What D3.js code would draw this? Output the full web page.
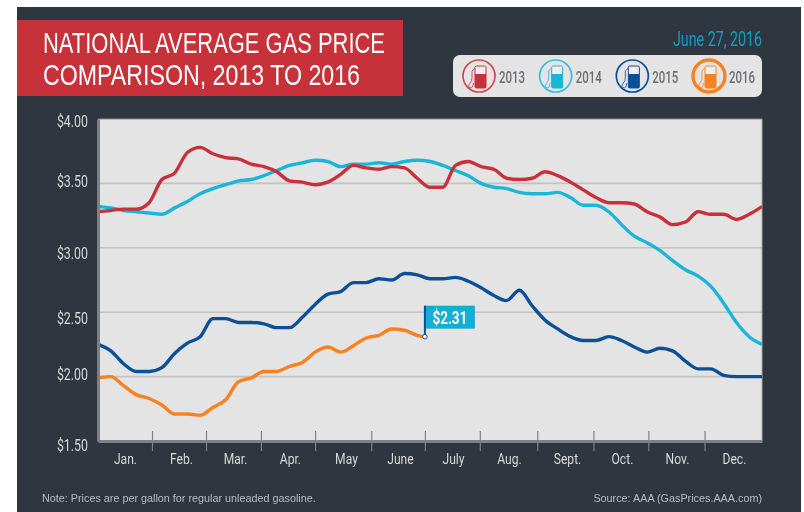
<!DOCTYPE html>
<html><head><meta charset="utf-8">
<script src="https://cdn.jsdelivr.net/npm/d3@7"></script>
<style>
html,body{margin:0;padding:0;background:#fff;}
svg{display:block;filter:blur(0.35px);}
.cond{font-family:"Roboto",sans-serif;}
.ttl{font-family:"Liberation Sans",sans-serif;}
</style></head><body><div id="chart"></div>
<script>
const months=["Jan.","Feb.","Mar.","Apr.","May","June","July","Aug.","Sept.","Oct.","Nov.","Dec."];
const monthLabelWeeks=[2.11,6.5,10.73,15.03,19.42,23.65,27.8,32.18,36.73,41.03,45.34,49.8];
const monthTickWeeks=[4.23,8.46,12.76,17,21.4,25.6,29.9,34.4,38.8,43.1,47.5];
const priceTicks=[1.5,2,2.5,3,3.5,4];
const years=["2013","2014","2015","2016"];
const values2013=[3.28,3.29,3.30,3.30,3.35,3.53,3.58,3.74,3.78,3.73,3.70,3.69,3.65,3.63,3.59,3.52,3.51,3.49,3.51,3.57,3.64,3.62,3.61,3.63,3.62,3.54,3.47,3.47,3.64,3.67,3.63,3.61,3.54,3.53,3.54,3.59,3.56,3.51,3.45,3.39,3.35,3.35,3.34,3.28,3.24,3.18,3.20,3.28,3.26,3.26,3.22,3.26,3.32];
const values2014=[3.32,3.31,3.29,3.28,3.27,3.26,3.31,3.36,3.42,3.46,3.49,3.52,3.53,3.56,3.60,3.64,3.66,3.68,3.67,3.63,3.65,3.65,3.66,3.65,3.67,3.68,3.67,3.64,3.60,3.56,3.50,3.47,3.46,3.43,3.42,3.42,3.43,3.39,3.33,3.33,3.28,3.18,3.09,3.04,2.98,2.90,2.83,2.78,2.70,2.57,2.42,2.31,2.25];
const values2015=[2.25,2.20,2.10,2.04,2.04,2.07,2.18,2.26,2.31,2.45,2.45,2.42,2.42,2.41,2.38,2.38,2.46,2.56,2.64,2.66,2.73,2.73,2.76,2.75,2.80,2.79,2.76,2.76,2.77,2.74,2.69,2.63,2.59,2.67,2.55,2.44,2.37,2.31,2.28,2.28,2.31,2.28,2.23,2.19,2.22,2.20,2.12,2.06,2.06,2.01,2.00,2.00,2.00];
const values2016=[1.99,2.00,1.93,1.86,1.83,1.78,1.71,1.71,1.70,1.76,1.82,1.96,1.99,2.04,2.04,2.08,2.11,2.19,2.23,2.19,2.24,2.30,2.32,2.37,2.36,2.32,2.31];
const lastWeek2016=25.6;
const currentLabel="$2.31";

const colors={"2013":"#c8303a","2014":"#1ab6da","2015":"#0b4f98","2016":"#f8821f"};
const W=804,H=512,L=98,R=762,T=119,B=441;
const squeeze=(sel,f)=>sel.each(function(){const t=d3.select(this);t.attr("textLength",this.getComputedTextLength()*f).attr("lengthAdjust","spacingAndGlyphs");});
const svg=d3.select("#chart").append("svg").attr("width",W).attr("height",H);
svg.append("rect").attr("x",17).attr("y",7).attr("width",784).attr("height",505).attr("fill","#2f3640");
svg.append("rect").attr("x",17).attr("y",20).attr("width",386).attr("height",76).attr("fill","#c7323a");
const title=[["NATIONAL AVERAGE GAS PRICE",53,342],["COMPARISON, 2013 TO 2016",85,317]];
svg.selectAll(".ttl").data(title).join("text").attr("class","ttl").attr("x",43).attr("y",d=>d[1])
 .attr("fill","#fff").attr("font-size",30).attr("textLength",d=>d[2]).attr("lengthAdjust","spacingAndGlyphs").text(d=>d[0]);
svg.append("text").attr("class","cond").attr("x",762).attr("y",46).attr("text-anchor","end").attr("fill","#109fc4")
 .attr("font-size",20).attr("textLength",89).attr("lengthAdjust","spacingAndGlyphs").text("June 27, 2016");

// legend
svg.append("rect").attr("x",453).attr("y",55).attr("width",309).attr("height",42).attr("rx",7).attr("fill","#e4e4e4");
const legendX=d3.scaleLinear().domain([0,3]).range([479,709]);
const lg=svg.selectAll(".lg").data(years).join("g").attr("class","lg").attr("transform",(d,i)=>`translate(${legendX(i)},76)`);
lg.append("circle").attr("r",16).attr("fill","none").attr("stroke",d=>colors[d]).attr("stroke-width",d=>d==="2016"?3.4:1.7).attr("stroke-opacity",d=>d==="2015"||d==="2016"?1:.85);
lg.append("rect").attr("x",-4).attr("y",-10).attr("width",11).attr("height",22).attr("rx",1.5).attr("fill","#efefef").attr("stroke",d=>colors[d]).attr("stroke-width",1);
lg.append("rect").attr("x",-4).attr("y",-2).attr("width",11).attr("height",14).attr("fill",d=>colors[d]);
lg.append("path").attr("d","M-4,-8 L-7,-5 L-7,2 Q-7,5 -9,7 Q-12,11 -8,12 Q-6,12 -5.5,7").attr("fill","none").attr("stroke",d=>colors[d]).attr("stroke-width",1).attr("stroke-opacity",.8);
lg.append("text").attr("class","cond").attr("x",20).attr("y",7).attr("fill","#6a6d70").attr("font-size",16.5).attr("font-weight",500)
 .attr("textLength",26).attr("lengthAdjust","spacingAndGlyphs").text(d=>d);

// plot
const x=d3.scaleLinear().domain([0,52]).range([L,R]);
const y=d3.scaleLinear().domain([1.5,4]).range([B,T]);
svg.append("rect").attr("x",L).attr("y",T).attr("width",R-L).attr("height",B-T).attr("fill","#e4e4e4");
svg.append("g").selectAll("line").data(priceTicks.filter(d=>d>1.5&&d<4)).join("line")
 .attr("x1",L).attr("x2",R).attr("y1",d=>y(d)).attr("y2",d=>y(d)).attr("stroke","#c2c2c2").attr("stroke-width",1.6);
svg.append("line").attr("x1",L).attr("x2",R).attr("y1",T).attr("y2",T).attr("stroke","#8a8d90").attr("stroke-width",1);
svg.append("line").attr("x1",R).attr("x2",R).attr("y1",T).attr("y2",B).attr("stroke","#a0a2a4").attr("stroke-width",1);

const line=d3.line().x(d=>x(d[0])).y(d=>y(d[1])).curve(d3.curveMonotoneX);
svg.append("clipPath").attr("id","pc").append("rect").attr("x",L).attr("y",T).attr("width",R-L).attr("height",B-T);
const gl=svg.append("g").attr("clip-path","url(#pc)");
const draw=["2015","2014","2013"];
const valuesOf={"2013":values2013,"2014":values2014,"2015":values2015};
draw.forEach(k=>{
 gl.append("path").datum(valuesOf[k].map((v,i)=>[i,v])).attr("d",line).attr("fill","none")
  .attr("stroke",colors[k]).attr("stroke-width",3.4).attr("stroke-linejoin","round");
});
const d2016=values2016.map((v,i)=>[i===values2016.length-1?lastWeek2016:i,v]);
gl.append("path").datum(d2016).attr("d",line).attr("fill","none").attr("stroke",colors["2016"]).attr("stroke-width",3.4).attr("stroke-linejoin","round");

// axes
const labelNudge=[4,-2,6,5,-2,2];
const ya=svg.append("g").attr("transform",`translate(${L},0)`).call(d3.axisLeft(y).tickValues(priceTicks).tickFormat(d3.format("$.2f")).tickSize(0).tickPadding(10));
ya.select(".domain").attr("stroke","#7d8084").attr("stroke-width",3);
ya.selectAll("text").attr("class","cond").attr("fill","#d8d8d8").attr("font-size",16.5)
  .attr("transform",(d,i)=>`translate(0,${labelNudge[i]})`).call(squeeze,.75);
const xt=svg.append("g").attr("transform",`translate(0,${B})`).call(d3.axisBottom(x).tickValues(monthTickWeeks).tickFormat("").tickSize(10).tickSizeOuter(0));
xt.select(".domain").attr("stroke","#7d8084").attr("stroke-width",3);
xt.selectAll(".tick line").attr("stroke","#7c838b").attr("stroke-width",1.2).attr("y1",-10);
const xl=svg.append("g").attr("transform",`translate(0,${B})`).call(d3.axisBottom(x).tickValues(monthLabelWeeks).tickFormat((d,i)=>months[i]).tickSize(0).tickPadding(12));
xl.select(".domain").remove();
xl.selectAll("text").attr("class","cond").attr("fill","#d8d8d8").attr("font-size",15.5).call(squeeze,.78);

// flag
const fx=x(lastWeek2016),fy=y(values2016[values2016.length-1]);
svg.append("rect").attr("x",fx).attr("y",fy-31).attr("width",50).attr("height",23).attr("fill","#13aed4");
svg.append("line").attr("x1",fx).attr("x2",fx).attr("y1",fy).attr("y2",fy-31).attr("stroke","#0b4f98").attr("stroke-width",2);
svg.append("circle").attr("cx",fx).attr("cy",fy).attr("r",2.3).attr("fill","#fff").attr("stroke","#0b4f98").attr("stroke-width",1);
svg.append("text").attr("class","cond").attr("x",fx+25).attr("y",fy-12.5).attr("text-anchor","middle").attr("fill","#fff")
 .attr("font-size",18).attr("font-weight","bold").attr("textLength",35).attr("lengthAdjust","spacingAndGlyphs").text(currentLabel);

// notes
svg.append("text").attr("x",42).attr("y",502).attr("font-family","Liberation Sans,Arial,sans-serif").attr("font-size",10.8).attr("fill","#b9bcc0")
 .text("Note: Prices are per gallon for regular unleaded gasoline.");
svg.append("text").attr("x",762).attr("y",502).attr("text-anchor","end").attr("font-family","Liberation Sans,Arial,sans-serif").attr("font-size",10.8).attr("fill","#b9bcc0")
 .text("Source: AAA (GasPrices.AAA.com)");
</script></body></html>
